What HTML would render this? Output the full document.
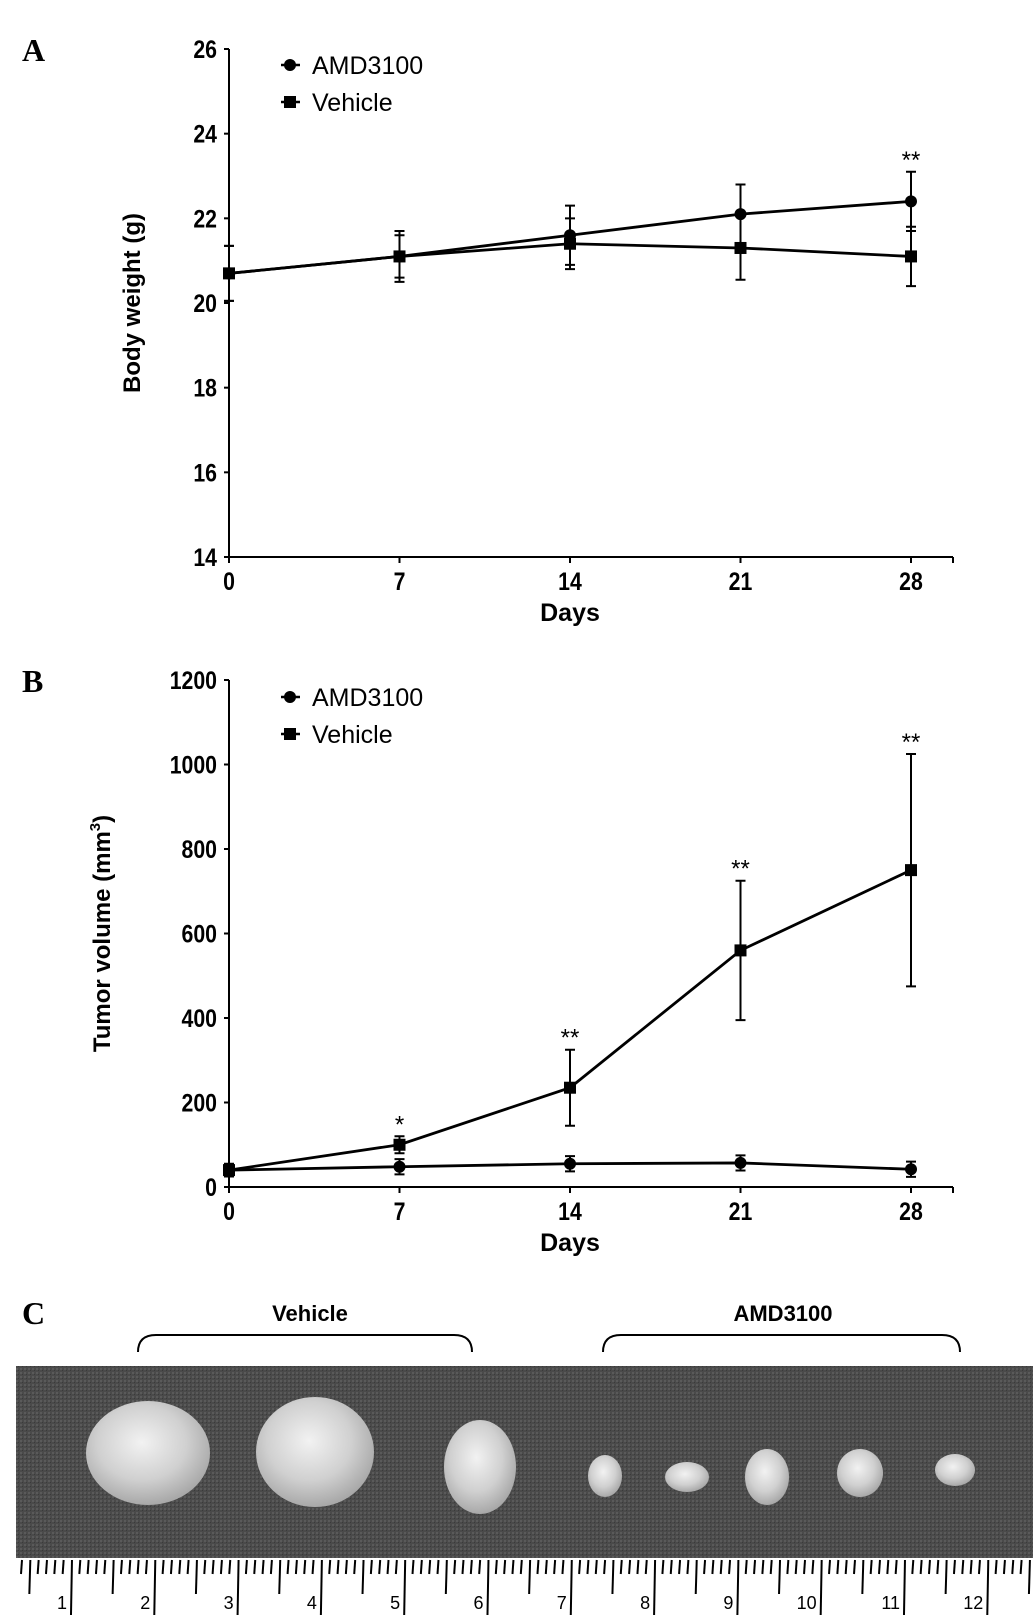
<!DOCTYPE html>
<html><head><meta charset="utf-8"><style>
html,body{margin:0;padding:0;background:#fff}
svg{display:block}
text{font-family:"Liberation Sans",sans-serif}
text.serif{font-family:"Liberation Serif",serif}
</style></head><body>
<svg id="fig" width="1033" height="1623" viewBox="0 0 1033 1623" xmlns="http://www.w3.org/2000/svg">
<defs>
<pattern id="fab" width="4" height="4" patternUnits="userSpaceOnUse"><rect width="4" height="4" fill="#4a4a4a"/><rect width="2" height="2" fill="#5a5a5a"/><rect x="2" y="2" width="1" height="1" fill="#3a3a3a"/></pattern>
<radialGradient id="tum" cx="45%" cy="40%" r="60%"><stop offset="0" stop-color="#f2f2f2"/><stop offset="0.6" stop-color="#d0d0d0"/><stop offset="1" stop-color="#a8a8a8"/></radialGradient>
</defs>
<g id="panelA"></g>
<g id="panelB"></g>
<g id="panelC"></g>
</svg>
<script>
const days = [0, 7, 14, 21, 28];
const weightTicks = [14, 16, 18, 20, 22, 24, 26];
const weightAMD = [20.7, 21.1, 21.6, 22.1, 22.4];
const weightAMDErr = [0.65, 0.6, 0.7, 0.7, 0.7];
const weightVeh = [20.7, 21.1, 21.4, 21.3, 21.1];
const weightVehErr = [0.65, 0.5, 0.6, 0.75, 0.7];
const weightStars = ["", "", "", "", "**"];
const volTicks = [0, 200, 400, 600, 800, 1000, 1200];
const volAMD = [40, 48, 55, 57, 42];
const volAMDErr = [10, 18, 18, 18, 18];
const volVeh = [40, 100, 235, 560, 750];
const volVehErr = [15, 20, 90, 165, 275];
const volStars = ["", "*", "**", "**", "**"];
const rulerLabels = ["1","2","3","4","5","6","7","8","9","10","11","12"];

const NS = "http://www.w3.org/2000/svg";
function mk(parent, tag, attrs, txt) {
  const e = document.createElementNS(NS, tag);
  for (const k in attrs) e.setAttribute(k, attrs[k]);
  if (txt !== undefined) e.textContent = txt;
  parent.appendChild(e);
  return e;
}

function chart(g, cfg) {
  const x0 = 229, x28 = 911, xEnd = 953;
  const xs = d => x0 + (x28 - x0) * d / 28;
  const ys = v => cfg.yBot + (cfg.yTop - cfg.yBot) * (v - cfg.min) / (cfg.max - cfg.min);
  let e;
  e = mk(g, "line", {x1: x0, y1: cfg.yTop, x2: x0, y2: cfg.yBot, stroke: "#000", "stroke-width": 2});
  
  
  e = mk(g, "line", {x1: x0, y1: cfg.yBot, x2: xEnd, y2: cfg.yBot, stroke: "#000", "stroke-width": 2});
  
  
  cfg.ticks.forEach(t => {
    const y = ys(t);
    mk(g, "line", {x1: x0 - 5, y1: y, x2: x0, y2: y, stroke: "#000", "stroke-width": 2});
    e = mk(g, "text", {x: 217, y: y + 9, "text-anchor": "end", "font-size": 25, "font-weight": "bold", transform: `translate(217 0) scale(0.85 1) translate(-217 0)`}, t);
    
    
  });
  mk(g, "line", {x1: xEnd, y1: cfg.yBot, x2: xEnd, y2: cfg.yBot + 6, stroke: "#000", "stroke-width": 2});
  days.forEach(d => {
    const x = xs(d);
    mk(g, "line", {x1: x, y1: cfg.yBot, x2: x, y2: cfg.yBot + 6, stroke: "#000", "stroke-width": 2});
    e = mk(g, "text", {x: x, y: cfg.yBot + 33, "text-anchor": "middle", "font-size": 25, "font-weight": "bold", transform: `translate(${x} 0) scale(0.85 1) translate(${-x} 0)`}, d);
    
    
  });
  e = mk(g, "text", {x: 570, y: cfg.yBot + 64, "text-anchor": "middle", "font-size": 25, "font-weight": "bold"}, "Days");
  
  
  const yc = (cfg.yTop + cfg.yBot) / 2;
  e = mk(g, "text", {x: 0, y: 0, "text-anchor": "middle", "font-size": 24, "font-weight": "bold", transform: `translate(${cfg.titleX} ${yc}) rotate(-90)`}, cfg.title);
  if (cfg.sup) mk(e, "tspan", {"font-size": 15, dy: -10}, "3");
  if (cfg.sup) mk(e, "tspan", {dy: 10}, ")");
  
  
  e = mk(g, "text", {x: 22, y: cfg.yTop + 12, "font-size": 32, "font-weight": "bold", "class": "serif"}, cfg.letter);
  
  

  const series = [
    {vals: cfg.amd, err: cfg.amdErr, name: "amd3100", shape: "circle"},
    {vals: cfg.veh, err: cfg.vehErr, name: "vehicle", shape: "square"}
  ];
  series.forEach(s => {
    const pts = s.vals.map((v, i) => `${xs(days[i])},${ys(v)}`).join(" ");
    e = mk(g, "polyline", {points: pts, fill: "none", stroke: "#000", "stroke-width": 2.8});
    
    
    s.vals.forEach((v, i) => {
      const x = xs(days[i]), y = ys(v), hi = ys(v + s.err[i]), lo = ys(v - s.err[i]);
      e = mk(g, "path", {d: `M${x},${hi}V${lo}M${x-5},${hi}H${x+5}M${x-5},${lo}H${x+5}`, stroke: "#000", "stroke-width": 2, fill: "none"});
      
      
      if (s.shape === "circle") e = mk(g, "circle", {cx: x, cy: y, r: 6, fill: "#000"});
      else e = mk(g, "rect", {x: x - 6, y: y - 6, width: 12, height: 12, fill: "#000"});
      
      
    });
  });
  cfg.stars.forEach((s, i) => {
    if (!s) return;
    const top = Math.min(ys(cfg.amd[i] + cfg.amdErr[i]), ys(cfg.veh[i] + cfg.vehErr[i]));
    e = mk(g, "text", {x: xs(days[i]), y: top - 4, "text-anchor": "middle", "font-size": 24}, s);
    
    
  });
  [["AMD3100", "circle", cfg.legY], ["Vehicle", "square", cfg.legY + 37]].forEach(([lab, sh, y]) => {
    mk(g, "line", {x1: 281, y1: y, x2: 300, y2: y, stroke: "#000", "stroke-width": 2.5});
    if (sh === "circle") mk(g, "circle", {cx: 290, cy: y, r: 6, fill: "#000"});
    else mk(g, "rect", {x: 284, y: y - 6, width: 12, height: 12, fill: "#000"});
    e = mk(g, "text", {x: 312, y: y + 9, "font-size": 25}, lab);
    
    
  });
}

chart(document.getElementById("panelA"), {yTop: 49, yBot: 557, min: 14, max: 26, ticks: weightTicks,
  amd: weightAMD, amdErr: weightAMDErr, veh: weightVeh, vehErr: weightVehErr, stars: weightStars,
  title: "Body weight (g)", titleX: 140, letter: "A", legY: 65});
chart(document.getElementById("panelB"), {yTop: 680, yBot: 1187, min: 0, max: 1200, ticks: volTicks,
  amd: volAMD, amdErr: volAMDErr, veh: volVeh, vehErr: volVehErr, stars: volStars,
  title: "Tumor volume (mm", sup: true, titleX: 110, letter: "B", legY: 697});

const C = document.getElementById("panelC");
let e = mk(C, "text", {x: 22, y: 1324, "font-size": 32, "font-weight": "bold", "class": "serif"}, "C");


[["Vehicle", 310, 138, 472], ["AMD3100", 783, 603, 960]].forEach(([lab, cx, a, b]) => {
  e = mk(C, "text", {x: cx, y: 1321, "text-anchor": "middle", "font-size": 22, "font-weight": "bold"}, lab);
  
  
  e = mk(C, "path", {d: `M${a},1352 Q${a},1335 ${a+18},1335 H${b-18} Q${b},1335 ${b},1352`, fill: "none", stroke: "#000", "stroke-width": 2});
  
  
});
e = mk(C, "rect", {x: 16, y: 1366, width: 1017, height: 192, fill: "url(#fab)"});


[[148,1453,62,52],[315,1452,59,55],[480,1467,36,47],[605,1476,17,21],[687,1477,22,15],[767,1477,22,28],[860,1473,23,24],[955,1470,20,16]].forEach(t => {
  e = mk(C, "ellipse", {cx: t[0], cy: t[1], rx: t[2], ry: t[3], fill: "url(#tum)"});
  
  
});
const ruler = mk(C, "g", {});


for (let i = 0; i < 125; i++) {
  const x = 22 + i * 8.33;
  if (x > 1031) break;
  const k = (i + 4) % 10;
  const len = k === 0 ? 55 : (k === 5 ? 34 : 14);
  mk(ruler, "line", {x1: x, y1: 1560, x2: x - 1, y2: 1560 + len, stroke: "#000", "stroke-width": 2});
}
rulerLabels.forEach((l, i) => {
  const x = 72 + i * 83.3 - 5;
  e = mk(ruler, "text", {x: x, y: 1609, "text-anchor": "end", "font-size": 18}, l);
  
  
});
</script>
</body></html>
